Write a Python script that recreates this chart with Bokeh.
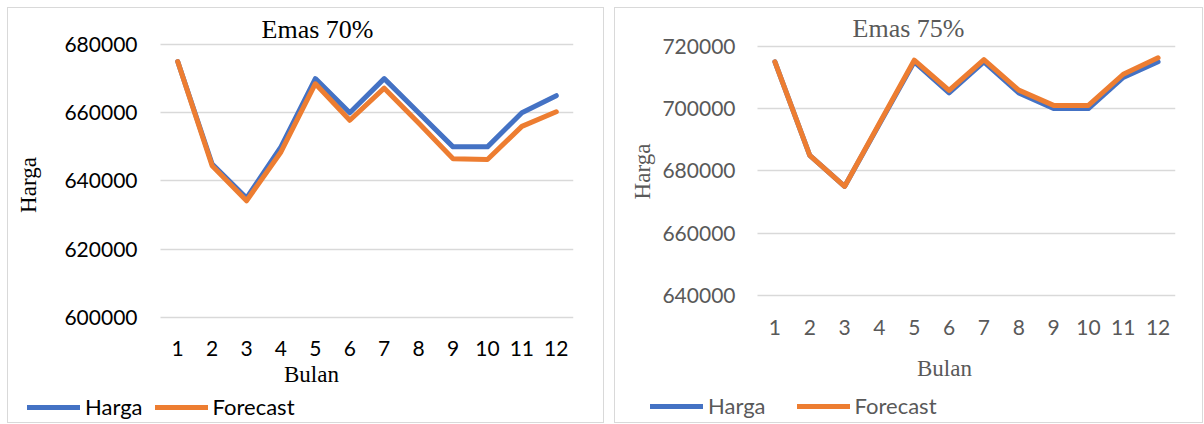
import math
from bokeh.plotting import figure
from bokeh.models import FixedTicker, NumeralTickFormatter, Range1d, Legend, LegendItem, Label
from bokeh.embed import file_html
from bokeh.resources import INLINE

bulan = [1, 2, 3, 4, 5, 6, 7, 8, 9, 10, 11, 12]
bulan_labels = [str(b) for b in bulan]

harga_70 = [675000, 645000, 635000, 650000, 670000, 660000, 670000, 660000, 650000, 650000, 660000, 665000]
forecast_70 = [675000, 644500, 634200, 648500, 668500, 657800, 667200, 657000, 646500, 646300, 656000, 660300]
yticks_70 = [600000, 620000, 640000, 660000, 680000]

harga_75 = [715000, 685000, 675000, 695000, 715000, 705000, 715000, 705000, 700000, 700000, 710000, 715000]
forecast_75 = [715000, 685000, 675000, 695300, 715500, 705800, 715700, 705900, 701000, 701000, 711000, 716300]
yticks_75 = [640000, 660000, 680000, 700000, 720000]

BLUE = "#4472C4"
ORANGE = "#ED7D31"
GRID = "#d9d9d9"
SANS = "Lato"
SERIF = "Liberation Serif"


def text_label(p, x, y, text, size, color, angle=0.0):
    p.add_layout(Label(x=x, y=y, x_units="screen", y_units="screen", text=text,
                       angle=angle, text_font=SERIF, text_font_size=size,
                       text_color=color, text_align="center", text_baseline="middle"))


def panel(title, harga, forecast, yticks, left, width, right_border, xr, yr,
          text_color, xlabel_standoff, ylabel_standoff, title_xy, harga_xy,
          bulan_xy, legend_xy, legend_spacing):
    p = figure(width=width, height=416, output_backend="svg", toolbar_location=None,
               x_range=Range1d(*xr), y_range=Range1d(*yr),
               min_border_left=0, min_border_right=right_border,
               min_border_top=0, min_border_bottom=0)
    p.styles = {"position": "absolute", "left": "%dpx" % left, "top": "7px",
                "border": "1px solid #d9d9d9"}
    p.outline_line_color = None
    p.background_fill_color = "white"
    p.border_fill_color = "white"

    p.xgrid.visible = False
    p.ygrid.grid_line_color = GRID
    p.ygrid.grid_line_width = 1.5
    p.ygrid.ticker = FixedTicker(ticks=yticks)
    p.ygrid.cross_bounds = (bulan[0] - 0.5, bulan[-1] + 0.5)

    r1 = p.line(bulan, harga, line_color=BLUE, line_width=5, line_cap="round", line_join="round")
    r2 = p.line(bulan, forecast, line_color=ORANGE, line_width=5, line_cap="round", line_join="round")

    xa = p.xaxis[0]
    xa.fixed_location = yticks[0]
    xa.ticker = FixedTicker(ticks=bulan)
    xa.major_label_overrides = {b: l for b, l in zip(bulan, bulan_labels)}
    xa.axis_line_color = None
    xa.major_tick_line_color = None
    xa.minor_tick_line_color = None
    xa.major_tick_out = 0
    xa.major_tick_in = 0
    xa.major_label_standoff = xlabel_standoff
    xa.major_label_text_font = SANS
    xa.major_label_text_font_size = "21px"
    xa.major_label_text_color = text_color

    ya = p.yaxis[0]
    ya.fixed_location = bulan[0] - 0.5
    ya.ticker = FixedTicker(ticks=yticks)
    ya.formatter = NumeralTickFormatter(format="0")
    ya.axis_line_color = None
    ya.major_tick_line_color = None
    ya.minor_tick_line_color = None
    ya.major_tick_out = 0
    ya.major_tick_in = 0
    ya.major_label_standoff = ylabel_standoff
    ya.major_label_text_font = SANS
    ya.major_label_text_font_size = "21px"
    ya.major_label_text_color = text_color

    text_label(p, title_xy[0], title_xy[1], title, "26px", text_color)
    text_label(p, harga_xy[0], harga_xy[1], "Harga", "23px", text_color, math.pi / 2)
    text_label(p, bulan_xy[0], bulan_xy[1], "Bulan", "23px", text_color)

    legend = Legend(items=[LegendItem(label="Harga", renderers=[r1]),
                           LegendItem(label="Forecast", renderers=[r2])],
                    orientation="horizontal", location=legend_xy,
                    padding=0, margin=0, spacing=legend_spacing,
                    glyph_width=53, glyph_height=20, label_height=20, label_standoff=5,
                    label_text_font=SANS, label_text_font_size="22px",
                    label_text_color=text_color,
                    border_line_color=None, background_fill_alpha=0)
    p.add_layout(legend, "center")
    return p


p1 = panel("Emas 70%", harga_70, forecast_70, yticks_70, 7, 597, 32,
           (-3.9165, 12.5), (568645, 690549), "#000000", 23, 23,
           (309, 395), (20, 239.5), (303, 50), (19, 4), 12)
p2 = panel("Emas 75%", harga_75, forecast_75, yticks_75, 614, 589, 29,
           (-3.5766, 12.5), (598605, 732098), "#595959", 24, 22,
           (293, 395.7), (26.6, 253), (329, 56), (35, 5), 31)

open("out.html", "w").write(file_html([p1, p2], INLINE))
